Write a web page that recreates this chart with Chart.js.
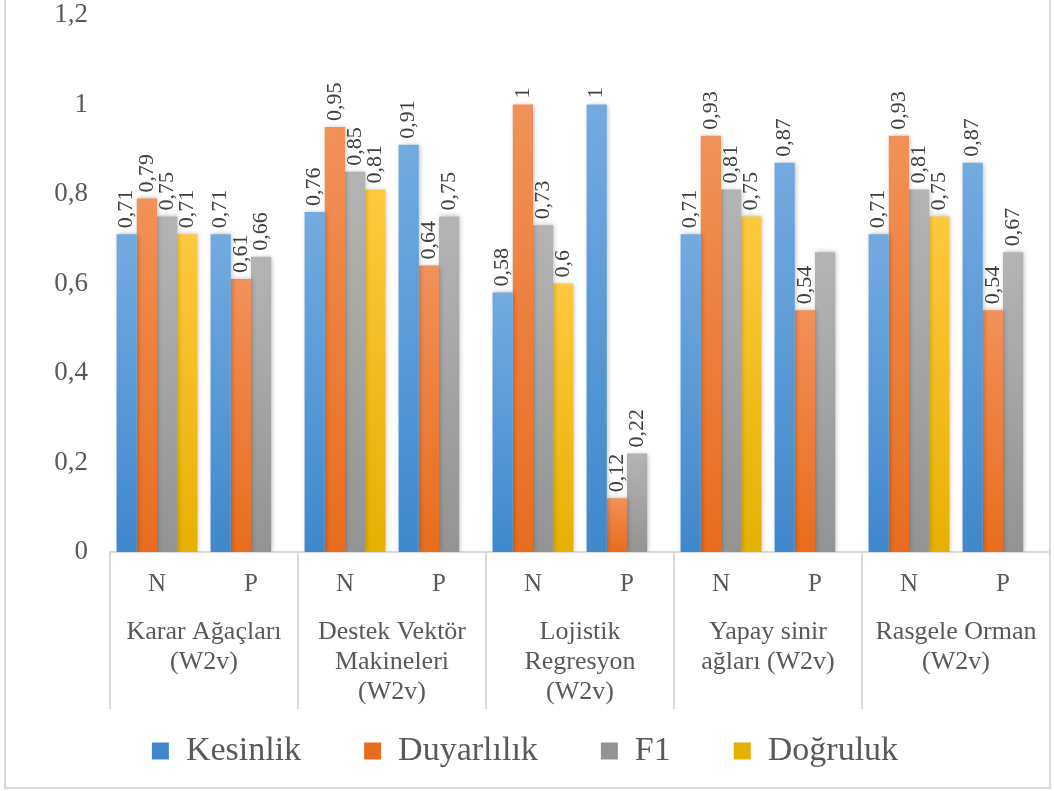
<!DOCTYPE html>
<html>
<head>
<meta charset="utf-8">
<script src="https://cdn.jsdelivr.net/npm/chart.js@4.4.0/dist/chart.umd.min.js"></script>
<style>
  html, body { margin: 0; padding: 0; background: #fff; }
  #wrap { width: 1054px; height: 791px; position: relative; }
</style>
</head>
<body>
<div id="wrap"><canvas id="metricsChart" width="1054" height="791"></canvas></div>
<script>
// categories (N / P per model)
const categories = ['N', 'P', 'N', 'P', 'N', 'P', 'N', 'P', 'N', 'P'];
const groupLabels = [
    ['Karar Ağaçları', '(W2v)'],
    ['Destek Vektör', 'Makineleri', '(W2v)'],
    ['Lojistik', 'Regresyon', '(W2v)'],
    ['Yapay sinir', 'ağları (W2v)'],
    ['Rasgele Orman', '(W2v)']
];
const seriesNames = ['Kesinlik', 'Duyarlılık', 'F1', 'Doğruluk'];

const kesinlik = [0.71, 0.71, 0.76, 0.91, 0.58, 1, 0.71, 0.87, 0.71, 0.87];
const duyarlilik = [0.79, 0.61, 0.95, 0.64, 1, 0.12, 0.93, 0.54, 0.93, 0.54];
const f1 = [0.75, 0.66, 0.85, 0.75, 0.73, 0.22, 0.81, 0.67, 0.81, 0.67];
const dogruluk = [0.71, null, 0.81, null, 0.6, null, 0.75, null, 0.75, null];

const yTicks = [0, 0.2, 0.4, 0.6, 0.8, 1, 1.2];
// labels that are not shown in the original (dataset-index)
const hiddenLabels = ['2-7'];

const FONT = '"Liberation Serif", "Times New Roman", serif';

function fmt(v) {
    return String(v).replace('.', ',');
}

// vertical gradient per bar: lighter on top, darker at the bottom
function barGradient(top, bottom) {
    return function(c) {
        const chart = c.chart;
        if (c.type !== 'data' || !chart.chartArea || c.raw == null) return bottom;
        const y = chart.scales.y;
        const yt = y.getPixelForValue(c.raw);
        const yb = y.getPixelForValue(0);
        const g = chart.ctx.createLinearGradient(0, yt, 0, yb);
        g.addColorStop(0, top);
        g.addColorStop(1, bottom);
        return g;
    };
}

const frameAndGroups = {
    id: 'frameAndGroups',
    beforeDatasetsDraw(chart) {
        const ctx = chart.ctx;
        ctx.save();
        ctx.shadowColor = 'rgba(0,0,0,0.28)';
        ctx.shadowBlur = 5;
        ctx.shadowOffsetX = 1;
        ctx.shadowOffsetY = 0;
    },
    afterDatasetsDraw(chart) {
        const ctx = chart.ctx;
        ctx.restore();

        // value labels, rotated
        ctx.save();
        ctx.font = '22px ' + FONT;
        ctx.fillStyle = '#404040';
        ctx.textAlign = 'left';
        ctx.textBaseline = 'middle';
        chart.data.datasets.forEach((ds, di) => {
            const meta = chart.getDatasetMeta(di);
            meta.data.forEach((bar, i) => {
                const v = ds.data[i];
                if (v == null || hiddenLabels.includes(di + '-' + i)) return;
                ctx.save();
                ctx.translate(bar.x, bar.y - 6);
                ctx.rotate(-Math.PI / 2);
                ctx.fillText(fmt(v), 0, 0);
                ctx.restore();
            });
        });
        ctx.restore();
    },
    afterDraw(chart) {
        const ctx = chart.ctx;
        const x = chart.scales.x;
        const area = chart.chartArea;
        const step = x.getPixelForValue(1) - x.getPixelForValue(0);
        const sepBottom = area.bottom + 157;

        ctx.save();
        ctx.strokeStyle = '#d9d9d9';
        ctx.lineWidth = 2;
        for (let g = 0; g <= groupLabels.length; g++) {
            const px = Math.round(x.getPixelForValue(g * 2) - step / 2);
            ctx.beginPath();
            ctx.moveTo(px, area.bottom);
            ctx.lineTo(px, sepBottom);
            ctx.stroke();
        }

        ctx.font = '26px ' + FONT;
        ctx.fillStyle = '#595959';
        ctx.textAlign = 'center';
        ctx.textBaseline = 'middle';
        groupLabels.forEach((lines, g) => {
            const cx = (x.getPixelForValue(g * 2) + x.getPixelForValue(g * 2 + 1)) / 2;
            lines.forEach((t, k) => {
                ctx.fillText(t, cx, area.bottom + 80 + k * 30);
            });
        });

        // outer frame
        ctx.strokeStyle = '#d9d9d9';
        ctx.lineWidth = 2;
        ctx.strokeRect(5, -2, 1045, 790);
        ctx.restore();
    }
};

const ctx = document.getElementById('metricsChart').getContext('2d');
window.metricsChart = new Chart(ctx, {
    type: 'bar',
    data: {
        labels: categories,
        datasets: [
            { label: seriesNames[0], data: kesinlik, backgroundColor: barGradient('#73abe0', '#3f88cc') },
            { label: seriesNames[1], data: duyarlilik, backgroundColor: barGradient('#f29159', '#e86c1c') },
            { label: seriesNames[2], data: f1, backgroundColor: barGradient('#b4b4b4', '#939393') },
            { label: seriesNames[3], data: dogruluk, backgroundColor: barGradient('#ffc940', '#e6b000') }
        ]
    },
    options: {
        responsive: false,
        animation: false,
        layout: { padding: { top: 15, right: 4, bottom: 13, left: 0 } },
        datasets: {
            bar: { categoryPercentage: 0.86, barPercentage: 1.0, skipNull: false }
        },
        scales: {
            x: {
                grid: { display: false, drawTicks: false },
                border: { display: true, color: '#d9d9d9', width: 2 },
                ticks: {
                    color: '#595959',
                    font: { family: FONT, size: 25 },
                    padding: 17,
                    maxRotation: 0
                },
                afterFit(s) { s.height = 170; }
            },
            y: {
                min: 0,
                max: 1.2,
                afterBuildTicks(s) { s.ticks = yTicks.map(v => ({ value: v })); },
                grid: { display: false, drawTicks: false },
                border: { display: false },
                ticks: {
                    color: '#595959',
                    font: { family: FONT, size: 27 },
                    padding: 22,
                    callback: v => fmt(v)
                },
                afterFit(s) {
                    s.width = 110;
                    s.paddingTop = 0;
                    s.paddingBottom = 0;
                }
            }
        },
        plugins: {
            legend: {
                position: 'bottom',
                labels: {
                    color: '#595959',
                    font: { family: FONT, size: 34 },
                    boxWidth: 17,
                    boxHeight: 17,
                    padding: 12,
                    // extra room between legend entries, like the original
                    generateLabels(chart) {
                        const items = Chart.defaults.plugins.legend.labels.generateLabels(chart);
                        items.forEach((it, i) => {
                            if (i < items.length - 1) it.text += '\u2002\u2002\u2002';
                        });
                        return items;
                    }
                }
            },
            tooltip: { enabled: false }
        }
    },
    plugins: [frameAndGroups]
});
</script>
</body>
</html>
